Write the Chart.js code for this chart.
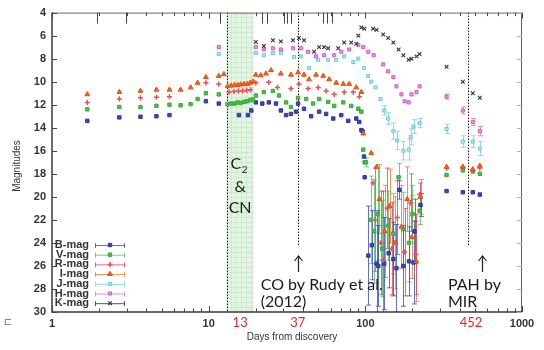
<!DOCTYPE html>
<html>
<head>
<meta charset="utf-8">
<script src="https://cdn.jsdelivr.net/npm/chart.js@4.4.0/dist/chart.umd.min.js"></script>
<style>
  html, body { margin: 0; padding: 0; background: #fff; }
  canvas { display: block; }
</style>
</head>
<body>
<canvas id="lc" width="544" height="350"></canvas>
<script>
// days from discovery / magnitudes
const bDays = [1.68, 2.69, 3.67, 4.64, 5.62, 9.6, 11.6, 15.6, 17.8, 18.7, 20.0, 22.0, 24.2, 26.9, 28.9, 31.2, 33.5, 36.1, 37.2, 40.6, 45.1, 50.7, 56.2, 62.4, 70.2, 77.8, 87.5, 91.5, 94.3, 96.0, 98.0, 99.0, 330, 419, 485, 538];
const bMag  = [13.4, 13.1, 13.05, 13.0, 12.9, 11.7, 11.9, 12.9, 12.9, 12.5, 11.8, 11.9, 11.8, 11.9, 12.5, 12.9, 12.8, 12.6, 11.9, 12.35, 13.0, 12.6, 12.8, 13.2, 12.9, 13.4, 13.2, 13.5, 14.2, 14.3, 16.5, 18.3, 19.5, 19.6, 19.6, 19.8];
const bErrDays = [104.5, 110, 118, 121, 132, 141, 151, 158, 165, 175, 190, 203, 206, 225];
const bErrMag  = [25.1, 24.2, 25.8, 26.0, 25.8, 24.9, 25.4, 26.2, 19.4, 26.0, 25.6, 25.7, 23.0, 20.7];
const bErrSize = [4.3, 3.0, 4.6, 3.5, 4.0, 3.0, 3.2, 3.8, 0.8, 3.5, 3.0, 3.6, 2.8, 1.0];

const vDays = [1.68, 2.69, 3.67, 4.64, 5.62, 6.62, 7.67, 8.5, 9.6, 11.6, 13.2, 13.9, 14.6, 15.3, 16.0, 16.8, 17.6, 18.4, 19.2, 20.0, 22.5, 25.7, 28.1, 31.2, 33.5, 37.2, 41.9, 46.4, 50.7, 57.9, 63.3, 72.3, 81.3, 90.2, 94.3, 97.0, 99.0, 330, 419, 485, 538];
const vMag  = [12.4, 12.2, 12.2, 12.1, 12.0, 12.05, 11.95, 11.5, 11.0, 11.1, 11.95, 11.9, 11.9, 11.8, 11.85, 11.75, 11.7, 11.6, 11.55, 11.2, 10.9, 10.8, 11.2, 11.8, 12.2, 11.4, 11.5, 11.9, 11.5, 11.75, 12.1, 11.8, 12.1, 12.35, 12.6, 15.9, 17.0, 18.1, 17.7, 17.8, 18.0];
const vErrDays = [101, 108, 114, 120, 128, 140, 151, 163, 175, 190, 200, 222];
const vErrMag  = [17.0, 22.0, 23.0, 21.5, 24.5, 22.5, 23.2, 18.3, 22.8, 24.0, 21.5, 21.2];
const vErrSize = [0.4, 3.8, 4.5, 4.0, 4.2, 3.0, 3.5, 1.2, 3.2, 3.4, 2.5, 1.2];

const rDays = [1.68, 2.69, 3.67, 4.64, 5.62, 9.6, 11.6, 13.5, 14.5, 15.5, 16.5, 17.5, 18.5, 20.0, 24.2, 27.5, 33.5, 37.7, 43.1, 50.0, 56.2, 63.3, 73.3, 83.8, 91.5, 112, 330, 419, 485, 538];
const rMag  = [11.8, 11.5, 11.4, 11.35, 11.3, 10.1, 10.2, 10.9, 10.85, 10.8, 10.8, 10.75, 10.7, 10.1, 10.05, 10.5, 10.6, 10.2, 10.6, 10.5, 10.8, 11.1, 10.9, 10.9, 11.3, 18.8, 17.5, 17.4, 17.7, 17.5];
const rErrDays = [116, 125, 130, 138, 147, 160, 178, 195, 210, 222];
const rErrMag  = [22.0, 24.0, 25.5, 21.0, 24.5, 21.8, 24.8, 20.5, 25.0, 19.8];
const rErrSize = [4.5, 4.5, 6.0, 3.5, 4.0, 3.2, 3.8, 2.5, 3.5, 1.0];

const iDays = [1.68, 2.69, 3.67, 4.64, 5.62, 6.62, 7.67, 8.5, 9.6, 11.6, 12.5, 13.2, 13.9, 14.6, 15.3, 16.0, 16.8, 17.6, 18.4, 19.2, 20.0, 21.5, 23.2, 25.0, 28.9, 33.5, 37.2, 40.6, 43.7, 48.5, 53.8, 58.8, 65.2, 72.3, 78.9, 87.5, 94.3, 97.0, 109, 118, 330, 419, 485, 538];
const iMag  = [11.1, 10.9, 10.8, 10.7, 10.7, 10.7, 10.5, 10.1, 9.6, 9.5, 9.35, 10.4, 10.35, 10.3, 10.3, 10.25, 10.2, 10.2, 10.1, 10.0, 9.4, 9.45, 9.3, 9.0, 9.3, 9.4, 9.2, 9.4, 9.8, 9.4, 9.5, 9.8, 10.1, 10.2, 10.2, 10.5, 10.9, 14.5, 16.2, 17.4, 17.4, 17.4, 17.6, 17.3];
const iErrDays = [123, 133, 143, 155, 170, 185, 198, 212, 225];
const iErrMag  = [20.2, 23.0, 20.8, 24.0, 22.6, 20.2, 23.5, 25.6, 20.0];
const iErrSize = [3.0, 4.0, 3.2, 4.0, 3.6, 2.8, 3.6, 3.5, 1.5];

const jDays = [11.6, 20.0, 22.5, 25.7, 28.9, 35.1, 38.9, 43.7, 50.0, 57.9, 65.2, 73.3, 83.8, 90.2, 98.0, 104, 109, 116, 125];
const jMag  = [7.6, 7.5, 7.7, 7.5, 7.5, 7.85, 7.8, 8.8, 8.1, 8.1, 8.1, 7.8, 8.3, 8.0, 8.8, 9.5, 10.0, 10.5, 11.5];
const jErrDays = [132, 140, 151, 160, 175, 189, 195, 203, 222, 330, 419, 485, 538];
const jErrMag  = [12.5, 13.2, 14.3, 15.1, 16.0, 15.9, 14.8, 13.9, 13.6, 14.1, 15.2, 15.2, 15.8];
const jErrSize = [0.4, 0.5, 0.7, 0.8, 0.8, 0.9, 0.7, 0.6, 0.4, 0.4, 0.5, 0.5, 0.6];

const hDays = [11.6, 20.0, 22.5, 25.7, 28.9, 34.5, 38.9, 43.1, 48.5, 54.6, 63.3, 70.2, 78.9, 90.2, 97.0, 104.5, 113, 130, 140, 151, 158, 170, 178, 189, 197, 212, 222];
const hMag  = [7.0, 7.0, 7.2, 7.1, 7.2, 7.1, 7.1, 7.4, 7.8, 7.7, 7.7, 7.4, 7.2, 6.8, 7.0, 7.4, 7.7, 8.5, 9.1, 9.6, 10.4, 11.1, 11.7, 11.8, 11.1, 10.9, 10.4];
const hErrDays = [330, 419, 485, 538];
const hErrMag  = [11.3, 12.5, 13.5, 14.3];
const hErrSize = [0.2, 0.3, 0.3, 0.4];

const kDays = [20.0, 22.5, 25.7, 28.9, 34.5, 37.7, 40.6, 47.1, 50.7, 54.6, 57.9, 67.1, 73.3, 81.3, 87.5, 90.2, 94.3, 98.6, 112, 118, 130, 140, 151, 163, 175, 189, 197, 212, 222, 330, 419, 485, 538];
const kMag  = [6.55, 6.9, 6.4, 6.5, 6.4, 6.2, 6.4, 7.4, 7.0, 7.0, 7.1, 7.1, 6.6, 6.6, 6.7, 6.0, 5.3, 5.4, 5.4, 5.5, 5.9, 6.2, 6.6, 7.2, 7.7, 8.1, 8.0, 7.8, 7.6, 8.7, 10.0, 11.0, 11.4];

// spectra epochs (long ticks on the top axis), C2/CN band, marked epochs
const specDays = [1.95, 2.95, 11.8, 21.9, 23.6, 30.4, 31.8, 33.6, 53.4, 57.0, 61.5];
const bandDays = [13, 19.4];
const markDays = [37, 452];
const markLabels = ['13', '37', '452'];

const xTicks = [1, 10, 100, 1000];
const yTicks = [4, 6, 8, 10, 12, 14, 16, 18, 20, 22, 24, 26, 28, 30];

function pts(days, mags) {
  return days.map((d, i) => ({ x: d, y: mags[i] }));
}

function series(label, days, mags, eDays, eMags, eSize, style) {
  eDays = eDays || []; eMags = eMags || []; eSize = eSize || [];
  return Object.assign({
    label: label,
    data: pts(days, mags).concat(pts(eDays, eMags)),
    errors: days.map(() => 0).concat(eSize),
    showLine: false
  }, style);
}

const datasets = [
  series('K-mag', kDays, kMag, null, null, null,
    { pointStyle: 'crossRot', pointRadius: 2.6, borderColor: '#333', borderWidth: 1.1, backgroundColor: '#333', errColor: '#555' }),
  series('H-mag', hDays, hMag, hErrDays, hErrMag, hErrSize,
    { pointStyle: 'rect', pointRadius: 2.2, backgroundColor: '#ea96de', borderColor: '#d65ac8', borderWidth: 1, errColor: '#e08ad6' }),
  series('J-mag', jDays, jMag, jErrDays, jErrMag, jErrSize,
    { pointStyle: 'rect', pointRadius: 2.2, backgroundColor: '#b0e6f0', borderColor: '#6ccade', borderWidth: 1, errColor: '#8fd8e8' }),
  series('I-mag', iDays, iMag, iErrDays, iErrMag, iErrSize,
    { pointStyle: 'triangle', pointRadius: 2.8, backgroundColor: '#f2621e', borderColor: '#e45212', borderWidth: 1, errColor: 'rgba(240,110,40,0.75)' }),
  series('R-mag', rDays, rMag, rErrDays, rErrMag, rErrSize,
    { pointStyle: 'cross', pointRadius: 2.6, borderColor: '#e6505c', backgroundColor: '#e6505c', borderWidth: 1.5, errColor: 'rgba(225,70,80,0.8)' }),
  series('V-mag', vDays, vMag, vErrDays, vErrMag, vErrSize,
    { pointStyle: 'rect', pointRadius: 2.4, backgroundColor: '#4cc04c', borderColor: '#38a838', borderWidth: 1, errColor: 'rgba(80,190,80,0.75)' }),
  series('B-mag', bDays, bMag, bErrDays, bErrMag, bErrSize,
    { pointStyle: 'rect', pointRadius: 2.4, backgroundColor: '#3b46c4', borderColor: '#2a35a0', borderWidth: 1, errColor: 'rgba(55,75,200,0.8)' })
];

const legendOrder = ['B-mag', 'V-mag', 'R-mag', 'I-mag', 'J-mag', 'H-mag', 'K-mag'];

function vline(ctx, x, y0, y1) {
  ctx.beginPath();
  ctx.moveTo(Math.round(x) + 0.5, y0);
  ctx.lineTo(Math.round(x) + 0.5, y1);
  ctx.stroke();
}

const decor = {
  id: 'decor',
  beforeDatasetsDraw(chart) {
    const { ctx, chartArea: a, scales: { x, y } } = chart;
    ctx.save();
    // C2 / CN band
    const bx0 = x.getPixelForValue(bandDays[0]), bx1 = x.getPixelForValue(bandDays[1]);
    ctx.fillStyle = 'rgba(212,238,212,0.65)';
    ctx.fillRect(bx0, a.top, bx1 - bx0, a.bottom - a.top);
    ctx.strokeStyle = 'rgba(165,212,165,0.3)';
    ctx.lineWidth = 1;
    ctx.beginPath();
    for (let gx = bx0 + 4; gx < bx1; gx += 5) { ctx.moveTo(Math.round(gx) + 0.5, a.top); ctx.lineTo(Math.round(gx) + 0.5, a.bottom); }
    for (let gy = a.top + 4; gy < a.bottom; gy += 5) { ctx.moveTo(bx0, Math.round(gy) + 0.5); ctx.lineTo(bx1, Math.round(gy) + 0.5); }
    ctx.stroke();
    // dotted epoch lines
    ctx.setLineDash([1.5, 1.5]);
    ctx.strokeStyle = '#111';
    vline(ctx, bx0, a.top, a.bottom);
    markDays.forEach(d => vline(ctx, x.getPixelForValue(d), a.top, y.getPixelForValue(24.3)));
    ctx.setLineDash([]);
    // error bars
    ctx.beginPath();
    ctx.rect(a.left, a.top, a.right - a.left, a.bottom - a.top);
    ctx.clip();
    chart.data.datasets.forEach(ds => {
      ctx.strokeStyle = ds.errColor;
      ctx.lineWidth = 1;
      ds.data.forEach((p, i) => {
        const e = ds.errors[i];
        if (!e) return;
        const px = Math.round(x.getPixelForValue(p.x)) + 0.5;
        const y0 = y.getPixelForValue(p.y - e), y1 = y.getPixelForValue(p.y + e);
        ctx.beginPath();
        ctx.moveTo(px, y0); ctx.lineTo(px, y1);
        ctx.moveTo(px - 2.5, y0); ctx.lineTo(px + 2.5, y0);
        ctx.moveTo(px - 2.5, y1); ctx.lineTo(px + 2.5, y1);
        ctx.stroke();
      });
    });
    ctx.restore();
  },
  afterDraw(chart) {
    const { ctx, chartArea: a, scales: { x, y } } = chart;
    ctx.save();
    // frame
    ctx.lineWidth = 1;
    ctx.strokeStyle = '#666';
    ctx.beginPath();
    ctx.moveTo(a.left, a.top + 0.5); ctx.lineTo(a.right, a.top + 0.5);
    ctx.moveTo(a.right - 0.5, a.top); ctx.lineTo(a.right - 0.5, a.bottom);
    ctx.stroke();
    ctx.lineWidth = 1.5;
    ctx.strokeStyle = '#3a3a3a';
    ctx.beginPath();
    ctx.moveTo(a.left, a.top); ctx.lineTo(a.left, a.bottom); ctx.lineTo(a.right, a.bottom);
    ctx.stroke();
    // log ticks, top and bottom
    ctx.lineWidth = 1;
    ctx.strokeStyle = '#444';
    ctx.beginPath();
    for (let dec = 1; dec <= 1000; dec *= 10) {
      for (let m = 1; m <= (dec === 1000 ? 1 : 9); m++) {
        const px = Math.round(x.getPixelForValue(dec * m)) + 0.5;
        const len = m === 1 ? 6 : 3.5;
        ctx.moveTo(px, a.bottom); ctx.lineTo(px, a.bottom - len);
        ctx.moveTo(px, a.top); ctx.lineTo(px, a.top + len);
      }
    }
    specDays.forEach(d => {
      const px = Math.round(x.getPixelForValue(d)) + 0.5;
      ctx.moveTo(px, a.top); ctx.lineTo(px, a.top + 11);
    });
    yTicks.forEach(v => {
      const py = Math.round(y.getPixelForValue(v)) + 0.5;
      ctx.moveTo(a.left, py); ctx.lineTo(a.left + 5, py);
    });
    ctx.stroke();
    ctx.strokeStyle = '#aaa';
    ctx.beginPath();
    yTicks.forEach(v => {
      const py = Math.round(y.getPixelForValue(v)) + 0.5;
      ctx.moveTo(a.right, py); ctx.lineTo(a.right - 5, py);
    });
    ctx.stroke();

    // legend
    ctx.font = 'bold 11px "Liberation Sans", Arial, sans-serif';
    ctx.textAlign = 'right';
    ctx.textBaseline = 'middle';
    legendOrder.forEach((name, i) => {
      const ds = chart.data.datasets.find(d => d.label === name);
      const ly = a.bottom - 67 + i * 9.7;
      const lx0 = a.left + 43, lx1 = a.left + 73;
      ctx.fillStyle = '#333';
      ctx.fillText(name, a.left + 37, ly);
      ctx.strokeStyle = ds.errColor;
      ctx.lineWidth = 1;
      ctx.beginPath();
      ctx.moveTo(lx0, ly + 0.5); ctx.lineTo(lx1, ly + 0.5);
      ctx.moveTo(lx0 + 0.5, ly - 2); ctx.lineTo(lx0 + 0.5, ly + 3);
      ctx.moveTo(lx1 - 0.5, ly - 2); ctx.lineTo(lx1 - 0.5, ly + 3);
      ctx.stroke();
      ctx.fillStyle = ds.backgroundColor;
      ctx.strokeStyle = ds.borderColor;
      ctx.lineWidth = ds.borderWidth;
      Chart.helpers.drawPoint(ctx, { pointStyle: ds.pointStyle, radius: ds.pointRadius, rotation: 0, borderWidth: ds.borderWidth }, (lx0 + lx1) / 2, ly);
    });

    // annotations
    const bandMid = (x.getPixelForValue(bandDays[0]) + x.getPixelForValue(bandDays[1])) / 2;
    const m37 = x.getPixelForValue(markDays[0]);
    const m452 = x.getPixelForValue(markDays[1]);
    ctx.fillStyle = '#1a1a1a';
    ctx.textBaseline = 'middle';
    ctx.font = '16px Lato, "Open Sans", sans-serif';
    ctx.textAlign = 'right';
    ctx.fillText('C', bandMid + 1, 164);
    ctx.font = '10px Lato, "Open Sans", sans-serif';
    ctx.textAlign = 'left';
    ctx.fillText('2', bandMid + 1.5, 170);
    ctx.font = '16px Lato, "Open Sans", sans-serif';
    ctx.textAlign = 'center';
    ctx.fillText('&', bandMid, 187);
    ctx.fillText('CN', bandMid, 208);
    ctx.textAlign = 'left';
    ctx.fillText('CO by Rudy et al.', m37 - 37, 285);
    ctx.fillText('(2012)', m37 - 37, 302);
    ctx.fillText('PAH by', m452 - 20, 285);
    ctx.fillText('MIR', m452 - 20, 302);

    // arrows
    ctx.strokeStyle = '#222';
    ctx.lineWidth = 1.2;
    [m37, m452 + 14].forEach(ax => {
      ax = Math.round(ax) + 0.5;
      ctx.beginPath();
      ctx.moveTo(ax, 272); ctx.lineTo(ax, 256);
      ctx.moveTo(ax - 4, 261); ctx.lineTo(ax, 256); ctx.lineTo(ax + 4, 261);
      ctx.stroke();
    });

    // red epoch labels under the axis
    ctx.fillStyle = '#e02a2a';
    ctx.font = '13px Lato, "Open Sans", sans-serif';
    ctx.textAlign = 'center';
    ctx.fillText(markLabels[0], bandMid, 323);
    ctx.fillText(markLabels[1], m37, 323);
    ctx.fillText(markLabels[2], m452 + 3, 323);

    // axis titles
    ctx.fillStyle = '#333';
    ctx.font = '10px "Liberation Sans", Arial, sans-serif';
    ctx.fillText('Days from discovery', 292, 337);
    ctx.save();
    ctx.translate(17, 166);
    ctx.rotate(-Math.PI / 2);
    ctx.fillText('Magnitudes', 0, 0);
    ctx.restore();
    ctx.fillStyle = '#666';
    ctx.font = '10px "DejaVu Sans", sans-serif';
    ctx.fillText('\u228F', 8, 322);
    ctx.restore();
  }
};

new Chart(document.getElementById('lc'), {
  type: 'scatter',
  data: { datasets: datasets },
  options: {
    responsive: false,
    animation: false,
    layout: { padding: { top: 7, right: 22, left: 0, bottom: 0 } },
    plugins: { legend: { display: false }, tooltip: { enabled: false } },
    scales: {
      x: {
        type: 'logarithmic',
        min: 1,
        max: 1000,
        afterBuildTicks: s => { s.ticks = xTicks.map(v => ({ value: v })); },
        afterFit: s => { s.height = 38; },
        grid: { display: false, drawTicks: false },
        border: { display: false },
        ticks: {
          autoSkip: false,
          maxRotation: 0,
          padding: 5,
          color: '#333',
          font: { family: '"Liberation Sans", Arial, sans-serif', size: 11, weight: 'bold' },
          callback: v => String(v)
        }
      },
      y: {
        reverse: true,
        min: 4,
        max: 30,
        afterBuildTicks: s => { s.ticks = yTicks.map(v => ({ value: v })); },
        afterFit: s => { s.width = 52; },
        grid: { display: false, drawTicks: false },
        border: { display: false },
        ticks: {
          padding: 6,
          color: '#333',
          font: { family: '"Liberation Sans", Arial, sans-serif', size: 11, weight: 'bold' }
        }
      }
    }
  },
  plugins: [decor]
});
</script>
</body>
</html>
